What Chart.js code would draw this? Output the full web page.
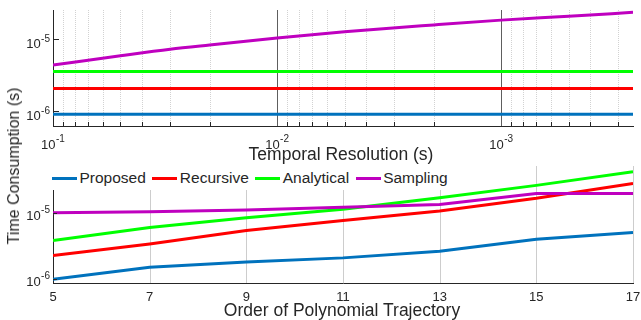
<!DOCTYPE html>
<html>
<head>
<meta charset="utf-8">
<script src="https://cdn.jsdelivr.net/npm/chart.js@4.4.1/dist/chart.umd.min.js"></script>
<style>
html,body{margin:0;padding:0;background:#fff;}
#wrap{position:relative;width:641px;height:320px;overflow:hidden;font-family:"Liberation Sans",Arial,Helvetica,sans-serif;color:#262626;}
canvas{position:absolute;left:0;}
#c1{top:0;}
#c2{top:160px;}
.title{position:absolute;white-space:nowrap;line-height:1;}
#xt1{font-size:17.5px;left:341px;top:146px;transform:translateX(-50%);}
#xt2{font-size:17.5px;left:342px;top:301.5px;transform:translateX(-50%);}
#yt{font-size:16px;left:14px;top:166px;transform:translate(-50%,-50%) rotate(-90deg);}
#legend{position:absolute;left:50px;top:166px;height:24px;background:#fff;display:flex;align-items:center;font-size:15.5px;padding-left:2px;padding-right:8px;white-space:nowrap;}
.item{display:flex;align-items:center;margin-right:6.5px;}
.swatch{width:25px;height:3px;margin-right:2.5px;}
</style>
</head>
<body>
<div id="wrap">
  <canvas id="c1" width="641" height="170"></canvas>
  <canvas id="c2" width="641" height="160"></canvas>
  <div class="title" id="xt1">Temporal Resolution (s)</div>
  <div class="title" id="xt2">Order of Polynomial Trajectory</div>
  <div class="title" id="yt">Time Consumption (s)</div>
  <div id="legend"></div>
</div>
<script>
// ---------- data ----------
const seriesNames  = ['Proposed', 'Recursive', 'Analytical', 'Sampling'];
const seriesColors = ['#0072BD', '#FF0000', '#00FF00', '#BF00BF'];

// top panel: time vs temporal resolution
const resolution     = [0.1, 0.05, 0.03, 0.02, 0.01, 0.005, 0.002, 0.001, 0.0005, 0.000258];
const resProposed    = [9.0e-7, 9.0e-7, 9.0e-7, 9.0e-7, 9.0e-7, 9.0e-7, 9.0e-7, 9.0e-7, 9.0e-7, 9.0e-7];
const resRecursive   = [2.06e-6, 2.06e-6, 2.06e-6, 2.06e-6, 2.06e-6, 2.06e-6, 2.06e-6, 2.06e-6, 2.06e-6, 2.06e-6];
const resAnalytical  = [3.55e-6, 3.55e-6, 3.55e-6, 3.55e-6, 3.55e-6, 3.55e-6, 3.55e-6, 3.55e-6, 3.55e-6, 3.55e-6];
const resSampling    = [4.35e-6, 5.85e-6, 7.2e-6, 8.25e-6, 1.03e-5, 1.26e-5, 1.57e-5, 1.83e-5, 2.07e-5, 2.35e-5];

// bottom panel: time vs polynomial order
const polyOrder      = [5, 7, 9, 11, 13, 15, 17];
const ordProposed    = [9.8e-7, 1.49e-6, 1.79e-6, 2.07e-6, 2.61e-6, 3.98e-6, 5.03e-6];
const ordRecursive   = [2.25e-6, 3.37e-6, 5.4e-6, 7.66e-6, 1.07e-5, 1.66e-5, 2.8e-5];
const ordAnalytical  = [3.8e-6, 6.0e-6, 8.4e-6, 1.13e-5, 1.69e-5, 2.61e-5, 4.21e-5];
const ordSampling    = [1.0e-5, 1.035e-5, 1.1e-5, 1.22e-5, 1.34e-5, 1.97e-5, 1.97e-5];

// ticks
const topXTickValues   = [1e-1, 1e-2, 1e-3];
const topXTickLabels   = ['10^-1', '10^-2', '10^-3'];
const yTickValues      = [1e-5, 1e-6];
const yTickLabels      = ['10^-5', '10^-6'];
const orderTickValues  = [5, 7, 9, 11, 13, 15, 17];
const orderTickLabels  = ['5', '7', '9', '11', '13', '15', '17'];

// ---------- legend ----------
const leg = document.getElementById('legend');
seriesNames.forEach((n, i) => {
  const it = document.createElement('div'); it.className = 'item';
  const sw = document.createElement('span'); sw.className = 'swatch'; sw.style.background = seriesColors[i];
  const tx = document.createElement('span'); tx.textContent = n;
  it.appendChild(sw); it.appendChild(tx); leg.appendChild(it);
});

// ---------- helpers ----------
const FONT = '"Liberation Sans", Arial, Helvetica, sans-serif';
const AX = '#262626';
function drawLabel(ctx, label, x, yBase, align) {
  const parts = label.split('^');
  const baseFont = '13px ' + FONT, expFont = '10px ' + FONT;
  ctx.font = baseFont; const w1 = ctx.measureText(parts[0]).width;
  let w2 = 0;
  if (parts[1]) { ctx.font = expFont; w2 = ctx.measureText(parts[1]).width + 0.5; }
  const total = w1 + w2;
  const x0 = align === 'center' ? x - total / 2 : x - total;
  ctx.textAlign = 'left'; ctx.textBaseline = 'alphabetic'; ctx.fillStyle = AX;
  ctx.font = baseFont; ctx.fillText(parts[0], x0, yBase);
  if (parts[1]) { ctx.font = expFont; ctx.fillText(parts[1], x0 + w1 + 0.5, yBase - 6.5); }
}
function vline(ctx, x, y0, y1) { ctx.beginPath(); ctx.moveTo(x, y0); ctx.lineTo(x, y1); ctx.stroke(); }
function hline(ctx, y, x0, x1) { ctx.beginPath(); ctx.moveTo(x0, y); ctx.lineTo(x1, y); ctx.stroke(); }
const px = v => Math.round(v) + 0.5;

function minorLogValues(min, max) {
  const out = [];
  for (let d = Math.floor(Math.log10(min)); d <= Math.ceil(Math.log10(max)); d++) {
    for (let m = 2; m <= 9; m++) { const v = m * Math.pow(10, d); if (v > min && v < max) out.push(v); }
  }
  return out;
}

// ---------- top panel ----------
const topXMin = 0.000258, topXMax = 0.1;
const decoTop = {
  id: 'decoTop',
  beforeDatasetsDraw(chart) {
    const { ctx, chartArea: a, scales: { x } } = chart;
    ctx.save(); ctx.lineWidth = 1;
    ctx.strokeStyle = '#d2d2d2'; ctx.setLineDash([1, 1]);
    minorLogValues(topXMin, topXMax).forEach(v => vline(ctx, px(x.getPixelForValue(v)), a.top, a.bottom));
    ctx.setLineDash([]); ctx.strokeStyle = '#5e5e5e';
    topXTickValues.forEach(v => { const p = px(x.getPixelForValue(v)); if (p > a.left + 1) vline(ctx, p, a.top, a.bottom); });
    ctx.restore();
  },
  afterDatasetsDraw(chart) {
    const { ctx, chartArea: a, scales: { x, y } } = chart;
    ctx.save(); ctx.lineWidth = 1; ctx.strokeStyle = AX;
    minorLogValues(topXMin, topXMax).forEach(v => vline(ctx, px(x.getPixelForValue(v)), a.bottom, a.bottom - 4));
    yTickValues.forEach(v => hline(ctx, px(y.getPixelForValue(v)), a.left, a.left + 6));
    topXTickValues.forEach((v, i) => drawLabel(ctx, topXTickLabels[i], x.getPixelForValue(v), 148.5, 'center'));
    yTickValues.forEach((v, i) => drawLabel(ctx, yTickLabels[i], 50, y.getPixelForValue(v) + 9, 'right'));
    ctx.restore();
  }
};

const topSeries = [resProposed, resRecursive, resAnalytical, resSampling];
new Chart(document.getElementById('c1'), {
  type: 'line',
  data: {
    datasets: topSeries.map((s, i) => ({
      label: seriesNames[i],
      data: resolution.map((r, k) => ({ x: r, y: s[k] })),
      borderColor: seriesColors[i], backgroundColor: seriesColors[i],
      borderWidth: 3, pointRadius: 0, cubicInterpolationMode: 'monotone', fill: false, order: 4 - i
    }))
  },
  options: {
    responsive: false, animation: false, devicePixelRatio: 1,
    layout: { padding: { left: 53, right: 8, top: 10, bottom: 44 } },
    plugins: { legend: { display: false }, tooltip: { enabled: false } },
    scales: {
      x: { type: 'logarithmic', reverse: true, min: topXMin, max: topXMax,
           ticks: { display: false }, grid: { display: false, drawTicks: false },
           border: { display: true, color: AX, width: 1 } },
      y: { type: 'logarithmic', min: 6.19e-7, max: 2.53e-5,
           ticks: { display: false }, grid: { display: false, drawTicks: false },
           border: { display: true, color: AX, width: 1 } }
    }
  },
  plugins: [decoTop]
});

// ---------- bottom panel ----------
const decoBot = {
  id: 'decoBot',
  beforeDatasetsDraw(chart) {
    const { ctx, chartArea: a, scales: { x } } = chart;
    ctx.save(); ctx.lineWidth = 1; ctx.strokeStyle = '#cdcdcd';
    orderTickValues.forEach(v => { const p = px(x.getPixelForValue(v)); if (p > a.left + 1) vline(ctx, p, a.top, a.bottom); });
    ctx.restore();
  },
  afterDatasetsDraw(chart) {
    const { ctx, chartArea: a, scales: { x, y } } = chart;
    ctx.save(); ctx.lineWidth = 1; ctx.strokeStyle = AX;
    yTickValues.forEach(v => hline(ctx, px(y.getPixelForValue(v)), a.left, a.left + 4));
    orderTickValues.forEach((v, i) => drawLabel(ctx, orderTickLabels[i], x.getPixelForValue(v), 140.5, 'center'));
    yTickValues.forEach((v, i) => drawLabel(ctx, yTickLabels[i], 50, y.getPixelForValue(v) + 7, 'right'));
    ctx.restore();
  }
};

const botSeries = [ordProposed, ordRecursive, ordAnalytical, ordSampling];
new Chart(document.getElementById('c2'), {
  type: 'line',
  data: {
    datasets: botSeries.map((s, i) => ({
      label: seriesNames[i],
      data: polyOrder.map((o, k) => ({ x: o, y: s[k] })),
      borderColor: seriesColors[i], backgroundColor: seriesColors[i],
      borderWidth: 3, pointRadius: 0, tension: 0, fill: false, order: 4 - i
    }))
  },
  options: {
    responsive: false, animation: false, devicePixelRatio: 1,
    layout: { padding: { left: 53, right: 8, top: 6, bottom: 37 } },
    plugins: { legend: { display: false }, tooltip: { enabled: false } },
    scales: {
      x: { type: 'linear', min: 5, max: 17,
           ticks: { display: false }, grid: { display: false, drawTicks: false },
           border: { display: true, color: AX, width: 1 } },
      y: { type: 'logarithmic', min: 8.6e-7, max: 5.14e-5,
           ticks: { display: false }, grid: { display: false, drawTicks: false },
           border: { display: true, color: AX, width: 1 } }
    }
  },
  plugins: [decoBot]
});
</script>
</body>
</html>
